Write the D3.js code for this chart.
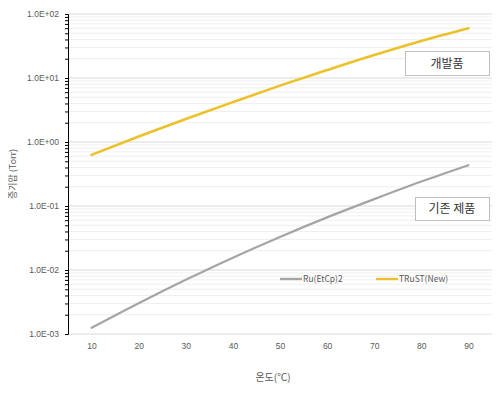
<!DOCTYPE html>
<html><head><meta charset="utf-8">
<script src="https://cdn.jsdelivr.net/npm/d3@7"></script>
<style>
html,body{margin:0;padding:0;background:#fff;}
svg{display:block;font-family:"Noto Sans CJK KR","Noto Sans",sans-serif;}
</style></head>
<body>
<svg id="chart" width="500" height="394"></svg>
<script>
const categories = [10, 20, 30, 40, 50, 60, 70, 80, 90];
const ruEtCp2 = [0.00125, 0.00303, 0.00703, 0.0156, 0.0329, 0.0664, 0.128, 0.241, 0.434];
const trust = [0.63, 1.22, 2.29, 4.2, 7.6, 13.3, 22.9, 38, 60];
const seriesNames = ["Ru(EtCp)2", "TRuST(New)"];
const yTickValues = [1e-3, 1e-2, 1e-1, 1e0, 1e1, 1e2];
const yTickLabels = ["1.0E-03", "1.0E-02", "1.0E-01", "1.0E+00", "1.0E+01", "1.0E+02"];
const annotations = ["개발품", "기존 제품"];
const xTitle = "온도(℃)";
const yTitle = "증기압 (Torr)";

const svg = d3.select("#chart");
const L = 68, R = 492, T = 14, B = 334;

const x = d3.scalePoint().domain(categories).range([L, R]).padding(0.5);
const y = d3.scaleLog().domain([1e-3, 1e2]).range([B, T]);

// minor gridlines
const minors = [];
for (let e = -3; e < 2; e++) for (let m = 2; m <= 9; m++) minors.push(m * Math.pow(10, e));
svg.append("g").selectAll("line").data(minors).join("line")
  .attr("x1", L).attr("x2", R)
  .attr("y1", d => y(d)).attr("y2", d => y(d))
  .attr("stroke", "#efefef").attr("stroke-width", 1);
// major gridlines
svg.append("g").selectAll("line").data(yTickValues).join("line")
  .attr("x1", L).attr("x2", R)
  .attr("y1", d => y(d)).attr("y2", d => y(d))
  .attr("stroke", "#d9d9d9").attr("stroke-width", 1);

// y axis
const yAxis = d3.axisLeft(y).tickValues(yTickValues.concat(minors)).tickSize(3)
  .tickFormat(d => { const i = yTickValues.indexOf(d); return i >= 0 ? yTickLabels[i] : ""; });
const gy = svg.append("g").attr("transform", `translate(${L},0)`).call(yAxis);
gy.select(".domain").attr("stroke", "#000").attr("stroke-width", 1);
gy.selectAll(".tick line").attr("stroke", "#000");
gy.selectAll(".tick text").attr("fill", "#595959").attr("font-size", 8.5).attr("x", -9);

// x axis
const xAxis = d3.axisBottom(x).tickSize(0).tickPadding(9);
const gx = svg.append("g").attr("transform", `translate(0,${B})`).call(xAxis);
gx.select(".domain").remove();
gx.selectAll(".tick text").attr("fill", "#595959").attr("font-size", 8.5);

// lines (smooth in log space)
const line = d3.line().x((d, i) => x(categories[i])).y(d => y(d)).curve(d3.curveMonotoneX);
svg.append("path").datum(ruEtCp2).attr("d", line).attr("fill", "none")
  .attr("stroke", "#a5a5a5").attr("stroke-width", 2.2).attr("stroke-linecap", "round");
svg.append("path").datum(trust).attr("d", line).attr("fill", "none")
  .attr("stroke", "#ecc12b").attr("stroke-width", 2.6).attr("stroke-linecap", "round");

// legend
const legend = [{name: seriesNames[0], color: "#a5a5a5", x: 280}, {name: seriesNames[1], color: "#ecc12b", x: 376}];
const lg = svg.append("g");
legend.forEach(l => {
  lg.append("line").attr("x1", l.x).attr("x2", l.x + 22).attr("y1", 279).attr("y2", 279)
    .attr("stroke", l.color).attr("stroke-width", 2.4);
  lg.append("text").attr("x", l.x + 23).attr("y", 282).attr("font-size", 8.5).attr("fill", "#595959").text(l.name);
});

// annotation boxes
const boxes = [{t: annotations[0], x: 405, y: 51, w: 84, h: 24}, {t: annotations[1], x: 415, y: 197, w: 74, h: 23}];
boxes.forEach(b => {
  svg.append("rect").attr("x", b.x + 0.5).attr("y", b.y + 0.5).attr("width", b.w).attr("height", b.h)
    .attr("fill", "#fff").attr("stroke", "#bfbfbf");
  svg.append("text").attr("x", b.x + b.w / 2).attr("y", b.y + b.h / 2 + 4.5).attr("text-anchor", "middle")
    .attr("font-size", 12).attr("fill", "#333").text(b.t);
});

// titles
svg.append("text").attr("x", 273).attr("y", 381).attr("text-anchor", "middle")
  .attr("font-size", 10).attr("fill", "#595959").text(xTitle);
svg.append("text").attr("transform", `translate(16,${(T + B) / 2}) rotate(-90)`).attr("text-anchor", "middle")
  .attr("font-size", 9).attr("fill", "#595959").text(yTitle);
</script>
</body></html>
